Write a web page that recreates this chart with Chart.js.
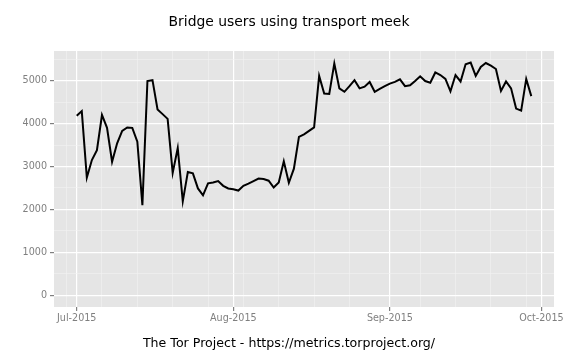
<!DOCTYPE html>
<html>
<head>
<meta charset="utf-8">
<script src="https://cdn.jsdelivr.net/npm/chart.js@4.4.0/dist/chart.umd.min.js"></script>
<style>
  body { margin: 0; background: #fff; }
</style>
</head>
<body>
<canvas id="meekChart" width="576" height="360"></canvas>
<script>
// daily bridge users, one value per day starting 2015-07-01
const startDate = '2015-07-01';
const users = [
  4180, 4290, 2740, 3150, 3380, 4200, 3900, 3110, 3540, 3830,
  3910, 3900, 3580, 2100, 4990, 5010, 4330, 4220, 4110, 2850,
  3430, 2190, 2870, 2840, 2490, 2330, 2610, 2630, 2660, 2550,
  2490, 2470, 2440, 2550, 2600, 2660, 2720, 2710, 2670, 2510,
  2630, 3120, 2620, 2950, 3690, 3750, 3830, 3910, 5110, 4700,
  4690, 5400, 4820, 4740, 4870, 5010, 4820, 4860, 4970, 4740,
  4810, 4870, 4930, 4970, 5030, 4870, 4890, 4990, 5100, 4990,
  4950, 5190, 5130, 5040, 4750, 5130, 4980, 5380, 5420, 5110,
  5320, 5410, 5350, 5270, 4760, 4980, 4820, 4350, 4300, 5040,
  4640
];

// x axis: days since start date
const monthTicks = [0, 31, 62, 92];
const monthLabels = ['Jul-2015', 'Aug-2015', 'Sep-2015', 'Oct-2015'];
const weekTicks = [-2, 5, 12, 19, 26, 33, 40, 47, 54, 68, 75, 82, 89];
const yTicks = [0, 1000, 2000, 3000, 4000, 5000];
const yMinorTicks = [500, 1500, 2500, 3500, 4500, 5500];

const points = users.map((v, i) => ({ x: i, y: v }));

function mixTicks(major, minor) {
  return major.map(v => ({ value: v, isMajor: true }))
    .concat(minor.map(v => ({ value: v, isMajor: false })))
    .sort((a, b) => a.value - b.value);
}

const gridColor = ctx => (ctx.tick && ctx.tick.isMajor) ? '#ffffff' : '#f2f2f2';
const gridWidth = ctx => (ctx.tick && ctx.tick.isMajor) ? 1.2 : 0.6;
const tickMarkColor = ctx => (ctx.tick && ctx.tick.isMajor) ? '#7f7f7f' : 'rgba(0,0,0,0)';

// grey panel + title + footer text
const ggPanel = {
  id: 'ggPanel',
  beforeDraw(chart) {
    const { ctx, chartArea: a } = chart;
    ctx.save();
    ctx.fillStyle = '#e5e5e5';
    ctx.fillRect(a.left, a.top, a.right - a.left, a.bottom - a.top);
    ctx.restore();
  },
  afterDraw(chart) {
    const ctx = chart.ctx;
    ctx.save();
    ctx.fillStyle = '#000';
    ctx.textAlign = 'center';
    ctx.textBaseline = 'middle';
    ctx.font = '13.9px "DejaVu Sans"';
    ctx.fillText('Bridge users using transport meek', 289, 22);
    ctx.font = '12.6px "DejaVu Sans"';
    ctx.fillText('The Tor Project - https://metrics.torproject.org/', 289, 344);
    ctx.restore();
  }
};

new Chart(document.getElementById('meekChart'), {
  type: 'line',
  data: {
    datasets: [{
      label: 'meek',
      data: points,
      borderColor: '#000',
      borderWidth: 2,
      pointRadius: 0,
      tension: 0,
      fill: false
    }]
  },
  options: {
    responsive: false,
    animation: false,
    layout: { padding: { top: 51, right: 22, bottom: 33, left: 0 } },
    plugins: {
      legend: { display: false },
      tooltip: { enabled: false }
    },
    scales: {
      x: {
        type: 'linear',
        min: -4.5,
        max: 94.5,
        afterBuildTicks: axis => { axis.ticks = mixTicks(monthTicks, weekTicks); },
        afterFit: axis => { axis.height = 20; },
        border: { display: false },
        grid: {
          color: gridColor,
          lineWidth: gridWidth,
          tickColor: tickMarkColor,
          tickLength: 4
        },
        ticks: {
          autoSkip: false,
          maxRotation: 0,
          padding: 2,
          color: '#7f7f7f',
          font: { family: 'DejaVu Sans', size: 9.6 },
          callback: (v, i, ticks) => ticks[i].isMajor ? monthLabels[monthTicks.indexOf(v)] : ''
        }
      },
      y: {
        min: -271,
        max: 5690,
        afterBuildTicks: axis => { axis.ticks = mixTicks(yTicks, yMinorTicks); },
        afterFit: axis => { axis.width = 54; },
        border: { display: false },
        grid: {
          color: gridColor,
          lineWidth: gridWidth,
          tickColor: tickMarkColor,
          tickLength: 4
        },
        ticks: {
          autoSkip: false,
          padding: 3,
          color: '#7f7f7f',
          font: { family: 'DejaVu Sans', size: 9.6 },
          callback: (v, i, ticks) => ticks[i].isMajor ? String(v) : ''
        }
      }
    }
  },
  plugins: [ggPanel]
});
</script>
</body>
</html>
